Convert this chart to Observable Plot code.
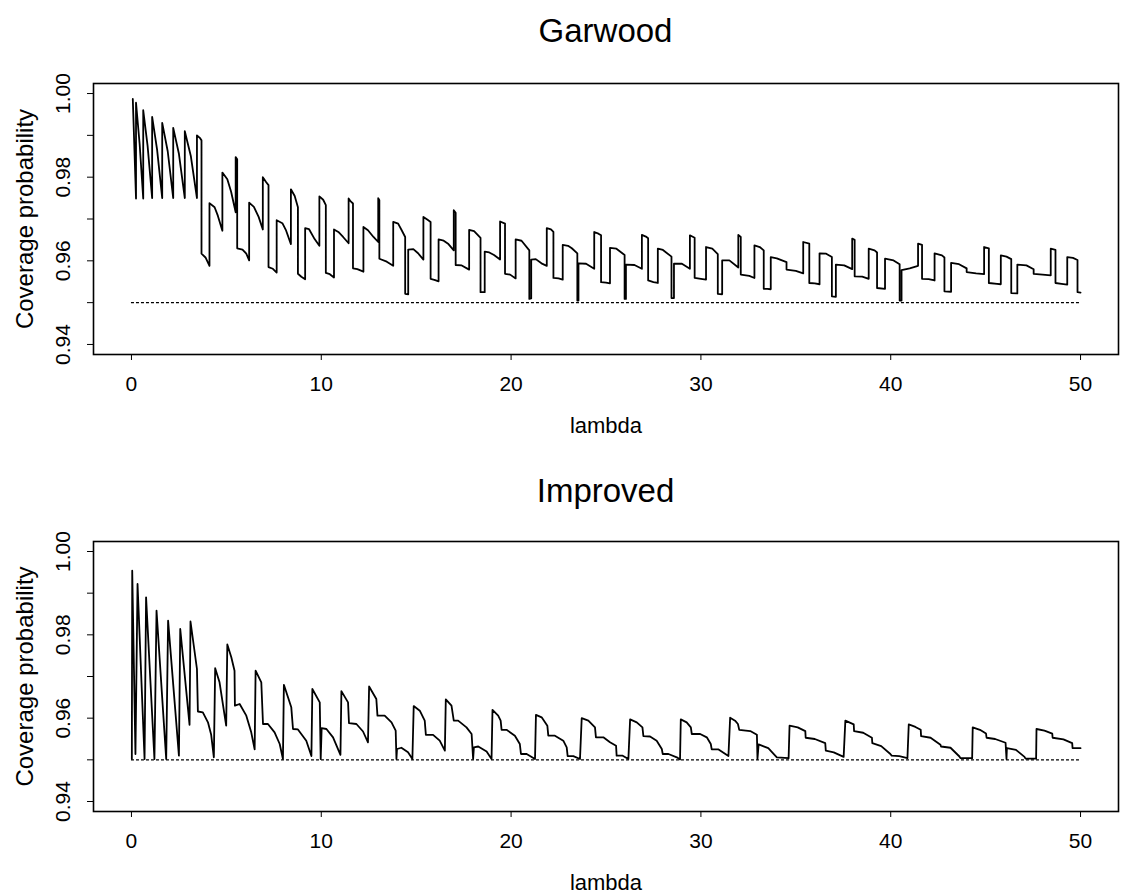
<!DOCTYPE html>
<html><head><meta charset="utf-8">
<script src="https://cdn.jsdelivr.net/npm/d3@7"></script>
<script src="https://cdn.jsdelivr.net/npm/@observablehq/plot@0.6"></script>
<style>
body{margin:0;background:#fff;}
#wrap{position:relative;width:1122px;height:896px;font-family:"Liberation Sans",Arial,Helvetica,sans-serif;background:#fff;}
#wrap svg{display:block;}
.title{position:absolute;left:93px;width:1025px;text-align:center;font-size:33px;line-height:33px;color:#000;}
</style></head><body>
<div id="wrap"></div>
<script>
// ---- data ----
const xTicks = [0, 10, 20, 30, 40, 50];
const yTicks = [0.94, 0.95, 0.96, 0.97, 0.98, 0.99, 1.00];
const yLabelTicks = [0.94, 0.96, 0.98, 1.00];
const refLambda = [0, 50];
const refLevel = 0.95;
const titles = ["Garwood", "Improved"];
const xLabel = "lambda";
const yLabel = "Coverage probability";

const garwoodLambda = [0.07,
0.24,0.24,0.43,0.62,
0.62,0.85,1.09,
1.09,1.35,1.62,
1.62,1.91,2.20,
2.20,2.50,2.81,
2.81,3.13,3.45,
3.45,3.60,3.69,
3.69,3.90,4.11,
4.11,4.38,4.55,4.79,
4.79,5.05,5.25,5.49,
5.49,5.57,
5.57,5.85,6.05,6.20,
6.20,6.45,6.70,6.92,
6.92,7.10,7.22,
7.22,7.45,7.65,
7.65,7.95,8.15,8.40,
8.40,8.60,8.77,
8.77,8.95,9.15,
9.15,9.35,9.65,9.90,
9.90,10.10,10.24,
10.24,10.45,10.67,
10.67,10.90,11.15,11.44,
11.44,11.55,11.67,
11.67,11.90,12.22,
12.22,12.46,12.75,13.00,
13.00,13.06,
13.06,13.45,13.79,
13.79,14.05,14.25,14.42,
14.42,14.58,
14.58,14.85,15.10,15.38,
15.38,15.60,15.76,
15.76,16.00,16.18,
16.18,16.45,16.70,16.98,
16.98,17.08,
17.08,17.40,17.79,
17.79,18.05,18.39,
18.39,18.61,
18.61,18.85,19.10,19.42,
19.42,19.68,
19.68,19.95,20.24,
20.24,20.55,20.96,
20.96,21.06,
21.06,21.30,21.60,21.88,
21.88,22.10,22.23,
22.23,22.50,22.72,
22.72,23.00,23.20,23.49,
23.49,23.55,
23.55,23.95,24.38,
24.38,24.60,24.74,
24.74,25.00,25.21,
25.21,25.55,25.98,
25.98,26.05,
26.05,26.50,26.89,
26.89,27.10,27.22,
27.22,27.50,27.73,
27.73,28.00,28.45,
28.45,28.58,
28.58,29.00,29.42,
29.42,29.67,
29.67,30.00,30.27,
30.27,30.60,30.89,
30.89,31.12,
31.12,31.50,31.97,
31.97,32.10,
32.10,32.55,32.82,
32.82,33.10,33.31,
33.31,33.50,33.68,
33.68,34.00,34.51,
34.51,35.00,35.39,
35.39,35.71,
35.71,36.00,36.25,
36.25,36.60,36.90,
36.90,37.11,
37.11,37.55,37.97,
37.97,38.10,
38.10,38.50,38.84,
38.84,39.15,39.28,
39.28,39.70,
39.70,40.15,40.47,
40.47,40.57,
40.57,41.00,41.44,
41.44,41.65,
41.65,42.00,42.31,
42.31,42.70,42.83,
42.83,43.18,
43.18,43.60,44.00,
44.00,44.50,44.92,
44.92,45.17,
45.17,45.60,45.80,
45.80,46.10,46.35,
46.35,46.67,
46.67,47.15,47.53,
47.53,48.00,48.43,
48.43,48.68,
48.68,49.00,49.30,
49.30,49.60,49.84,
49.84,50.00];

const garwoodCoverage = [0.9987,
0.9749,0.9978,0.9880,0.9749,
0.9960,0.9875,0.9750,
0.9944,0.9866,0.9750,
0.9930,0.9862,0.9750,
0.9918,0.9856,0.9750,
0.9910,0.9850,0.9750,
0.9900,0.9894,0.9888,
0.9617,0.9608,0.9588,
0.9738,0.9728,0.9708,0.9672,
0.9811,0.9795,0.9765,0.9716,
0.9848,0.9843,
0.9630,0.9627,0.9617,0.9601,
0.9739,0.9729,0.9705,0.9675,
0.9800,0.9788,0.9781,
0.9585,0.9581,0.9572,
0.9697,0.9690,0.9672,0.9640,
0.9771,0.9755,0.9728,
0.9569,0.9562,0.9556,
0.9678,0.9676,0.9652,0.9636,
0.9754,0.9746,0.9733,
0.9571,0.9568,0.9560,
0.9675,0.9669,0.9657,0.9642,
0.9749,0.9742,0.9737,
0.9582,0.9580,0.9574,
0.9681,0.9673,0.9657,0.9645,
0.9750,0.9745,
0.9605,0.9598,0.9588,
0.9693,0.9689,0.9672,0.9657,
0.9521,0.9520,
0.9627,0.9628,0.9618,0.9603,
0.9705,0.9698,0.9693,
0.9557,0.9554,0.9551,
0.9651,0.9648,0.9640,0.9625,
0.9721,0.9715,
0.9590,0.9589,0.9579,
0.9674,0.9671,0.9655,
0.9525,0.9525,
0.9622,0.9620,0.9614,0.9603,
0.9694,0.9689,
0.9569,0.9567,0.9558,
0.9651,0.9648,0.9625,
0.9509,0.9510,
0.9603,0.9604,0.9594,0.9588,
0.9678,0.9675,0.9669,
0.9559,0.9558,0.9555,
0.9638,0.9636,0.9630,0.9618,
0.9505,0.9505,
0.9594,0.9593,0.9581,
0.9669,0.9665,0.9661,
0.9549,0.9548,0.9546,
0.9631,0.9629,0.9614,
0.9509,0.9509,
0.9591,0.9590,0.9581,
0.9662,0.9658,0.9654,
0.9553,0.9549,0.9547,
0.9629,0.9626,0.9610,
0.9511,0.9511,
0.9593,0.9593,0.9581,
0.9661,0.9655,
0.9559,0.9557,0.9555,
0.9633,0.9629,0.9616,
0.9521,0.9520,
0.9601,0.9601,0.9584,
0.9662,0.9657,
0.9567,0.9564,0.9559,
0.9637,0.9633,0.9625,
0.9533,0.9533,0.9532,
0.9609,0.9606,0.9597,
0.9579,0.9576,0.9570,
0.9645,0.9641,
0.9547,0.9546,0.9544,
0.9618,0.9617,0.9609,
0.9515,0.9514,
0.9591,0.9589,0.9580,
0.9653,0.9650,
0.9563,0.9562,0.9557,
0.9629,0.9625,0.9620,
0.9535,0.9533,
0.9605,0.9601,0.9592,
0.9505,0.9505,
0.9578,0.9582,0.9588,
0.9641,0.9638,
0.9557,0.9556,0.9553,
0.9618,0.9613,0.9608,
0.9527,0.9526,
0.9595,0.9592,0.9582,
0.9573,0.9570,0.9568,
0.9633,0.9630,
0.9547,0.9545,0.9544,
0.9613,0.9610,0.9604,
0.9523,0.9522,
0.9591,0.9589,0.9580,
0.9569,0.9567,0.9565,
0.9629,0.9626,
0.9547,0.9545,0.9543,
0.9609,0.9607,0.9602,
0.9525,0.9524];

const improvedLambda = [0.02,0.04,0.21,0.32,0.69,0.77,1.21,1.32,1.83,1.93,
2.50,2.57,3.06,3.11,3.45,3.50,3.76,4.03,4.20,4.34,
4.41,4.64,4.99,5.05,5.26,5.43,5.45,5.70,6.05,6.31,
6.49,6.54,6.84,6.93,7.19,7.54,7.81,7.98,8.03,8.42,
8.51,8.77,9.21,9.48,9.53,9.92,9.97,10.02,10.27,10.62,
11.01,11.06,11.41,11.46,11.85,12.20,12.46,12.52,12.90,12.96,
13.34,13.70,13.92,13.96,13.99,14.22,14.57,14.80,14.87,15.19,
15.45,15.51,15.89,16.24,16.51,16.56,16.86,16.98,17.21,17.65,
17.92,18.00,18.04,18.27,18.71,18.97,19.02,19.32,19.45,19.50,
19.76,20.20,20.46,20.52,20.82,21.26,21.31,21.61,21.91,21.96,
22.31,22.75,22.93,22.98,23.28,23.63,23.72,24.07,24.42,24.47,
24.86,25.21,25.53,25.56,25.88,26.18,26.27,26.62,26.92,26.97,
27.32,27.67,27.94,27.99,28.29,28.73,28.90,28.94,29.25,29.47,
29.52,29.96,30.31,30.52,30.57,30.93,31.45,31.54,31.80,31.95,
32.02,32.60,32.95,32.98,33.04,33.55,34.00,34.62,34.67,35.10,
35.50,35.52,36.00,36.55,36.58,37.00,37.52,37.61,38.05,38.07,
38.55,39.01,39.03,39.50,39.98,40.05,40.45,40.88,40.95,41.30,
41.58,41.60,42.10,42.62,42.65,43.15,43.62,43.67,44.29,44.32,
44.70,45.02,45.05,45.50,46.05,46.10,46.12,46.60,47.05,47.10,
47.66,47.68,48.10,48.51,48.53,49.10,49.56,49.58,50.00];

const improvedCoverage = [0.9502,0.9954,0.9514,0.9922,0.9502,0.9890,0.9502,0.9858,0.9502,0.9834,
0.9510,0.9814,0.9584,0.9832,0.9718,0.9616,0.9614,0.9590,0.9560,0.9506,
0.9720,0.9686,0.9582,0.9777,0.9746,0.9714,0.9630,0.9634,0.9606,0.9566,
0.9525,0.9714,0.9686,0.9586,0.9586,0.9566,0.9538,0.9502,0.9680,0.9626,
0.9574,0.9573,0.9546,0.9509,0.9670,0.9638,0.9502,0.9576,0.9574,0.9554,
0.9512,0.9665,0.9638,0.9588,0.9586,0.9568,0.9542,0.9676,0.9646,0.9606,
0.9606,0.9590,0.9570,0.9502,0.9526,0.9529,0.9518,0.9502,0.9629,0.9618,
0.9594,0.9560,0.9560,0.9546,0.9522,0.9645,0.9630,0.9594,0.9594,0.9578,
0.9562,0.9502,0.9530,0.9532,0.9520,0.9502,0.9620,0.9606,0.9594,0.9572,
0.9572,0.9558,0.9538,0.9514,0.9514,0.9502,0.9608,0.9602,0.9582,0.9558,
0.9558,0.9546,0.9530,0.9509,0.9509,0.9502,0.9600,0.9594,0.9578,0.9554,
0.9554,0.9542,0.9534,0.9510,0.9510,0.9502,0.9597,0.9590,0.9578,0.9557,
0.9556,0.9546,0.9526,0.9514,0.9514,0.9506,0.9501,0.9597,0.9590,0.9578,
0.9562,0.9562,0.9554,0.9538,0.9525,0.9525,0.9509,0.9601,0.9594,0.9586,
0.9572,0.9569,0.9560,0.9502,0.9537,0.9528,0.9506,0.9504,0.9582,0.9578,
0.9569,0.9553,0.9550,0.9540,0.9522,0.9518,0.9507,0.9594,0.9585,0.9569,
0.9565,0.9553,0.9540,0.9533,0.9514,0.9510,0.9509,0.9504,0.9585,0.9579,
0.9572,0.9557,0.9553,0.9536,0.9532,0.9529,0.9508,0.9504,0.9504,0.9578,
0.9572,0.9563,0.9553,0.9550,0.9541,0.9502,0.9528,0.9524,0.9507,0.9503,
0.9503,0.9574,0.9570,0.9563,0.9553,0.9549,0.9540,0.9528,0.9528];

// ---- drawing ----
const font = '"Liberation Sans", Arial, Helvetica, sans-serif';
function toRows(xs, ys) {
  const n = Math.min(xs.length, ys.length);
  const rows = [];
  for (let i = 0; i < n; i++) rows.push({lambda: xs[i], coverage: ys[i]});
  return rows;
}
const refRows = [{y: refLevel, x1: refLambda[0], x2: refLambda[1]}];

function panel(xs, ys, marginTop, marginBottom) {
  return Plot.plot({
    width: 1122,
    height: 448,
    marginLeft: 93,
    marginRight: 4,
    marginTop,
    marginBottom,
    style: {fontFamily: font, background: "white", color: "black", overflow: "visible"},
    x: {domain: [-2, 52], ticks: xTicks, tickSize: 6, tickFormat: () => "", label: null},
    y: {domain: [0.9376, 1.0024], ticks: yTicks, tickSize: 6, tickFormat: () => "", label: null},
    marks: [
      Plot.ruleY(refRows, {y: "y", x1: "x1", x2: "x2", stroke: "black", strokeWidth: 1.2, strokeDasharray: "3,2"}),
      Plot.line(toRows(xs, ys), {x: "lambda", y: "coverage", stroke: "black", strokeWidth: 1.8, strokeLinejoin: "round"}),
      Plot.frame({stroke: "black", strokeWidth: 1.6}),
      Plot.text(xTicks, {x: d => d, frameAnchor: "bottom", lineAnchor: "middle", textAnchor: "middle", dy: 30, text: d => String(d), fontSize: 21, fill: "black"}),
      Plot.text(yLabelTicks, {y: d => d, frameAnchor: "left", lineAnchor: "middle", textAnchor: "middle", dx: -30, rotate: -90, text: d => d.toFixed(2), fontSize: 21, fill: "black"}),
      Plot.text([xLabel], {frameAnchor: "bottom", lineAnchor: "middle", textAnchor: "middle", dy: 71, fontSize: 22, fill: "black"}),
      Plot.text([yLabel], {frameAnchor: "left", lineAnchor: "middle", textAnchor: "middle", dx: -68, rotate: -90, fontSize: 24, fill: "black"})
    ]
  });
}

const wrap = document.getElementById("wrap");
wrap.appendChild(panel(garwoodLambda, garwoodCoverage, 83, 94));
wrap.appendChild(panel(improvedLambda, improvedCoverage, 93, 85));
const tops = [14, 474];
titles.forEach((t, i) => {
  const d = document.createElement("div");
  d.className = "title";
  d.style.top = tops[i] + "px";
  d.textContent = t;
  wrap.appendChild(d);
});
</script>
</body></html>
